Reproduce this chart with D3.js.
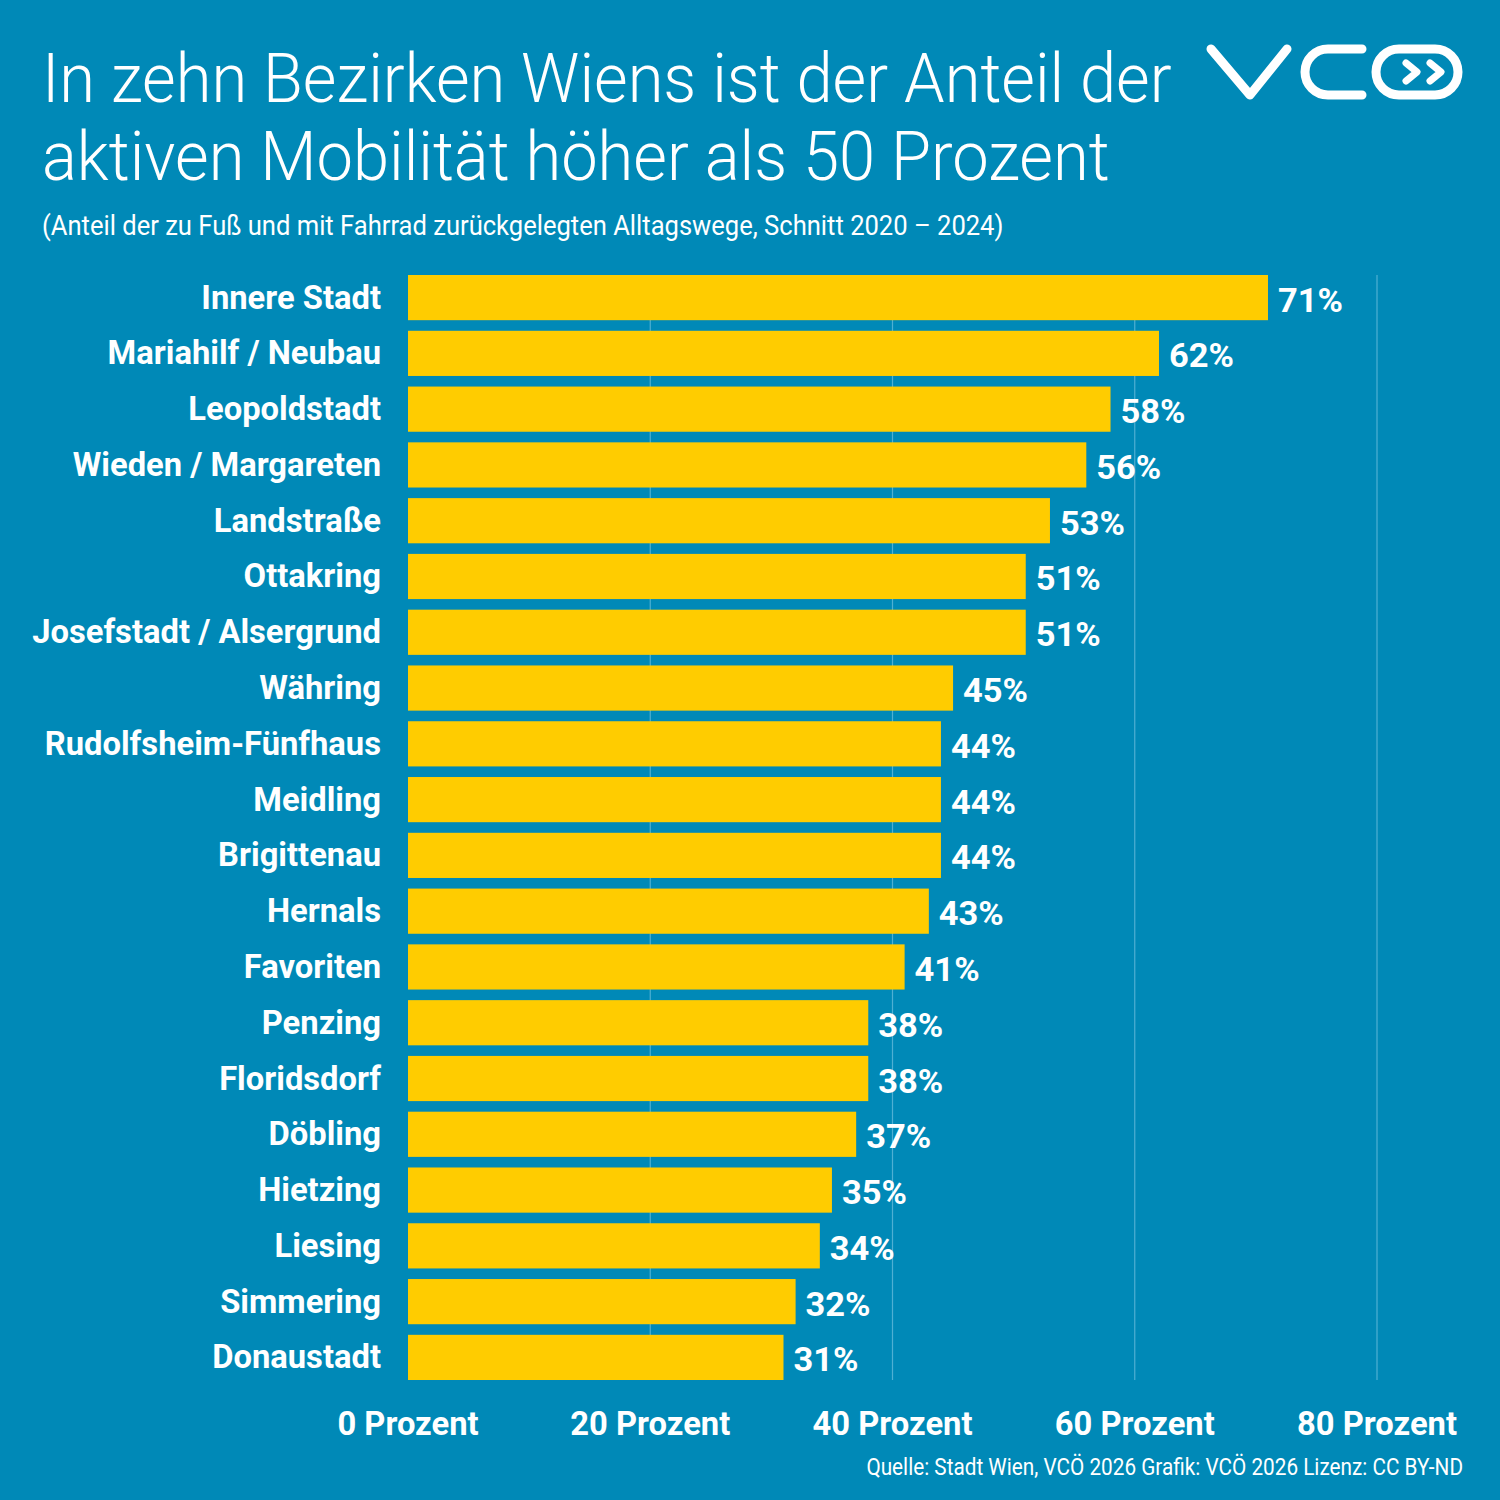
<!DOCTYPE html>
<html>
<head>
<meta charset="utf-8">
<script src="https://cdn.jsdelivr.net/npm/d3@7"></script>
<style>
  body { margin: 0; background: #0089b7; }
  text { font-family: "Roboto", "Liberation Sans", sans-serif; }
</style>
</head>
<body>
<div id="chart"></div>
<script>
const districts = ["Innere Stadt", "Mariahilf / Neubau", "Leopoldstadt", "Wieden / Margareten",
  "Landstraße", "Ottakring", "Josefstadt / Alsergrund", "Währing", "Rudolfsheim-Fünfhaus",
  "Meidling", "Brigittenau", "Hernals", "Favoriten", "Penzing", "Floridsdorf", "Döbling",
  "Hietzing", "Liesing", "Simmering", "Donaustadt"];
const shares = [71, 62, 58, 56, 53, 51, 51, 45, 44, 44, 44, 43, 41, 38, 38, 37, 35, 34, 32, 31];
const ticks = [0, 20, 40, 60, 80];

const titleLines = ["In zehn Bezirken Wiens ist der Anteil der", "aktiven Mobilität höher als 50 Prozent"];
const subtitle = "(Anteil der zu Fuß und mit Fahrrad zurückgelegten Alltagswege, Schnitt 2020 – 2024)";
const footer = "Quelle: Stadt Wien, VCÖ 2026 Grafik: VCÖ 2026 Lizenz: CC BY-ND";

const W = 1500, H = 1500;
const bg = "#0089b7", yellow = "#ffcc00";

let svg = d3.select("#chart").append("svg")
  .attr("width", W)
  .attr("height", H)
  .style("display", "block");

svg.append("rect").attr("width", W).attr("height", H).attr("fill", bg);

// the original uses a condensed face; squeeze a normal one horizontally
function squeeze(size, weight, sample, target) {
  let t = svg.append("text").attr("font-size", size).attr("font-weight", weight).text(sample);
  let w = t.node().getComputedTextLength();
  t.remove();
  return target / w;
}
const sTitle = squeeze(68, 300, titleLines[0], 1130);
const sSub = squeeze(28, 400, subtitle, 962);
const sBold = squeeze(34, 700, "Josefstadt / Alsergrund", 349);
const sVal = squeeze(34, 700, "71%", 65);
const sFoot = squeeze(23, 400, footer, 597);

function label(g, px, py, s) {
  return g.append("text").attr("transform", `translate(${px},${py}) scale(${s},1)`);
}

let x = d3.scaleLinear().domain([0, 80]).range([408, 1377]);
let y = d3.scaleBand().domain(districts).range([275, 1380]).paddingInner(0.19).paddingOuter(0);

// title
titleLines.forEach((line, i) => {
  label(svg, 42, 102 + i * 78, sTitle)
    .attr("fill", "#fff").attr("font-size", 68).attr("font-weight", 300)
    .text(line);
});
label(svg, 42, 235, sSub)
  .attr("fill", "#fff").attr("font-size", 28)
  .text(subtitle);

// logo
let logo = svg.append("g")
  .attr("fill", "none").attr("stroke", "#fff").attr("stroke-width", 9)
  .attr("stroke-linecap", "round").attr("stroke-linejoin", "round");
logo.append("path").attr("d", "M1211,49 L1250,95 L1287,49");
logo.append("path").attr("d", "M1362,49 H1328 A23,23 0 0 0 1328,95 H1362");
logo.append("rect").attr("x", 1376).attr("y", 49).attr("width", 82).attr("height", 46).attr("rx", 23);
logo.append("path").attr("d", "M1406,63 L1417,72 L1406,81").attr("stroke-width", 7);
logo.append("path").attr("d", "M1430,63 L1441,72 L1430,81").attr("stroke-width", 7);

// grid
svg.append("g").selectAll("line")
  .data(ticks.slice(1))
  .enter()
    .append("line")
    .attr("x1", d => x(d)).attr("x2", d => x(d))
    .attr("y1", 275).attr("y2", 1380)
    .attr("stroke", "#4fb0d3").attr("stroke-width", 1.2);

// bars
svg.append("g").selectAll("rect")
  .data(districts)
  .enter()
    .append("rect")
    .attr("x", x(0))
    .attr("y", d => y(d))
    .attr("width", (d, i) => x(shares[i]) - x(0))
    .attr("height", y.bandwidth())
    .attr("fill", yellow);

// category labels
let catG = svg.append("g");
districts.forEach(d => {
  label(catG, 381, y(d) + y.bandwidth() / 2 + 11, sBold)
    .attr("text-anchor", "end")
    .attr("fill", "#fff").attr("font-size", 34).attr("font-weight", "bold")
    .text(d);
});

// value labels
let valG = svg.append("g");
districts.forEach((d, i) => {
  label(valG, x(shares[i]) + 10, y(d) + y.bandwidth() / 2 + 14, sVal)
    .attr("fill", "#fff").attr("font-size", 34).attr("font-weight", "bold")
    .text(shares[i] + "%");
});

// axis labels
let axG = svg.append("g");
ticks.forEach(t => {
  label(axG, x(t), 1435, sBold)
    .attr("text-anchor", "middle")
    .attr("fill", "#fff").attr("font-size", 34).attr("font-weight", "bold")
    .text(t + " Prozent");
});

// footer
label(svg, 1463, 1475, sFoot)
  .attr("text-anchor", "end")
  .attr("fill", "#fff").attr("font-size", 23)
  .text(footer);
</script>
</body>
</html>
